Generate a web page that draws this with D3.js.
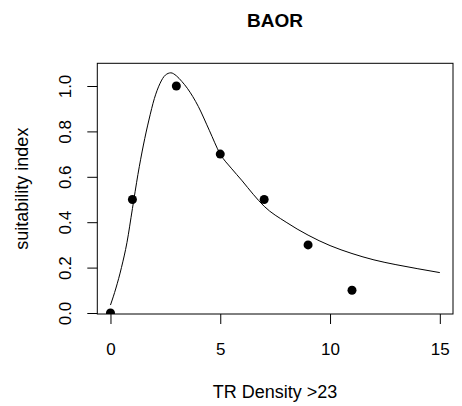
<!DOCTYPE html>
<html>
<head>
<meta charset="utf-8">
<script src="https://cdn.jsdelivr.net/npm/d3@7"></script>
<style>
  html, body { margin: 0; padding: 0; background: #fff; }
  svg { display: block; }
  text { font-family: "Liberation Sans", Arial, Helvetica, sans-serif; fill: #000; }
</style>
</head>
<body>
<svg id="chart" width="462" height="406"></svg>
<script>
// Observed points
const obsX = [0, 1, 3, 5, 7, 9, 11];
const obsY = [0, 0.5, 1.0, 0.7, 0.5, 0.3, 0.1];

// Fitted curve
const curveX = [0, 0.25, 0.5, 0.75, 1, 1.25, 1.5, 1.75, 2, 2.25, 2.5, 2.75, 3, 3.25, 3.5, 4, 4.5, 5, 5.5, 6, 6.5, 7, 8, 9, 10, 11, 12, 13, 14, 15];
const curveY = [0.035, 0.11, 0.2, 0.31, 0.46, 0.61, 0.74, 0.85, 0.945, 1.01, 1.048, 1.058, 1.045, 1.02, 0.99, 0.91, 0.805, 0.70, 0.638, 0.582, 0.523, 0.47, 0.40, 0.343, 0.297, 0.262, 0.234, 0.213, 0.195, 0.178];

const xTicks = [0, 5, 10, 15];
const yTicks = [0.0, 0.2, 0.4, 0.6, 0.8, 1.0];

const title = "BAOR";
const xLabel = "TR Density >23";
const yLabel = "suitability index";

const svg = d3.select("#chart");
const box = { left: 97.3, right: 453, top: 63.3, bottom: 314 };

const x = d3.scaleLinear().domain([-0.6, 15.6]).range([box.left, box.right]);
const y = d3.scaleLinear().domain([-0.0044, 1.1]).range([box.bottom, box.top]);

svg.append("defs").append("clipPath").attr("id", "plotclip")
  .append("rect")
  .attr("x", box.left).attr("y", box.top)
  .attr("width", box.right - box.left).attr("height", box.bottom - box.top);

const plot = svg.append("g").attr("clip-path", "url(#plotclip)");

const line = d3.line()
  .x((d, i) => x(curveX[i]))
  .y((d, i) => y(curveY[i]))
  .curve(d3.curveMonotoneX);

plot.append("path")
  .datum(curveX)
  .attr("d", line)
  .attr("fill", "none")
  .attr("stroke", "#000")
  .attr("stroke-width", 1);

plot.selectAll("circle")
  .data(obsX)
  .enter().append("circle")
  .attr("cx", (d) => x(d))
  .attr("cy", (d, i) => y(obsY[i]))
  .attr("r", 4.5)
  .attr("fill", "#000");

// Box
svg.append("rect")
  .attr("x", box.left).attr("y", box.top)
  .attr("width", box.right - box.left).attr("height", box.bottom - box.top)
  .attr("fill", "none").attr("stroke", "#000").attr("stroke-width", 1);

// X axis
const xAxis = d3.axisBottom(x).tickValues(xTicks).tickSize(10).tickPadding(19).tickFormat(d3.format("d"));
const gx = svg.append("g").attr("transform", `translate(0,${box.bottom})`).call(xAxis);
gx.select(".domain").remove();
gx.selectAll("text").attr("font-size", 17).style("font-family", "Liberation Sans, Arial, sans-serif");

// Y axis
const yAxis = d3.axisLeft(y).tickValues(yTicks).tickSize(10).tickPadding(0).tickFormat(d3.format(".1f"));
const gy = svg.append("g").attr("transform", `translate(${box.left},0)`).call(yAxis);
gy.select(".domain").remove();
gy.selectAll("text")
  .attr("font-size", 17)
  .style("font-family", "Liberation Sans, Arial, sans-serif")
  .attr("text-anchor", "middle")
  .attr("x", null).attr("dy", null)
  .attr("transform", "translate(-32,0) rotate(-90)")
  .attr("dy", "0.35em");

// Title
svg.append("text")
  .attr("x", 275).attr("y", 27)
  .attr("text-anchor", "middle")
  .attr("font-size", 19).attr("font-weight", "bold")
  .text(title);

// X label
svg.append("text")
  .attr("x", 275).attr("y", 398)
  .attr("text-anchor", "middle")
  .attr("font-size", 18)
  .text(xLabel);

// Y label
svg.append("text")
  .attr("transform", `translate(28,${(box.top + box.bottom) / 2}) rotate(-90)`)
  .attr("text-anchor", "middle")
  .attr("font-size", 18)
  .text(yLabel);
</script>
</body>
</html>
